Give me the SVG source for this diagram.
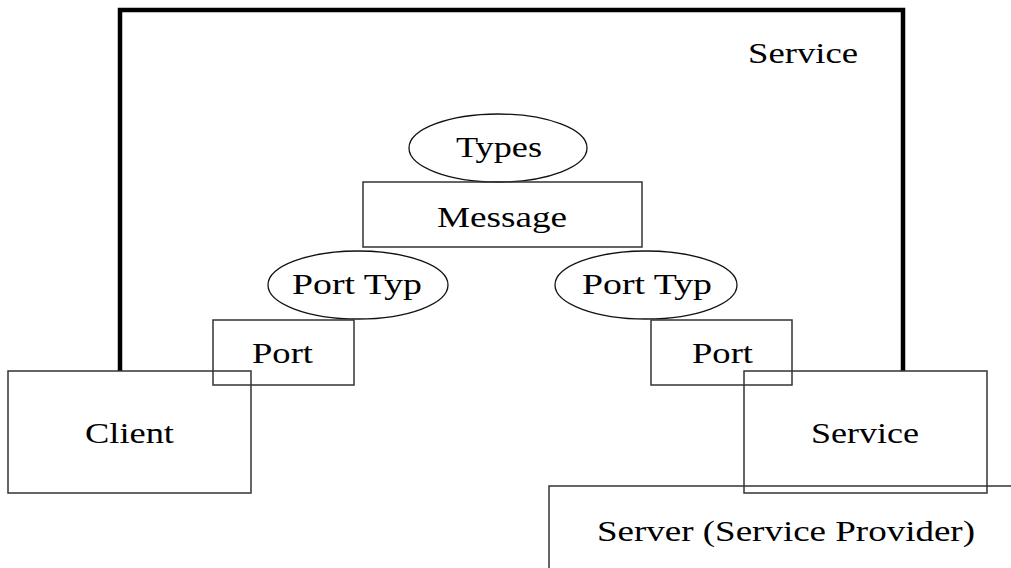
<svg xmlns="http://www.w3.org/2000/svg" width="1011" height="568" viewBox="0 0 1011 568">
  <style>
    .box { fill: none; stroke: #333; stroke-width: 1.5; }
    .oval { fill: none; stroke: #111; stroke-width: 1.3; }
    .frame { fill: none; stroke: #000; stroke-width: 4.5; stroke-linejoin: miter; }
    .lbl { font-family: "Liberation Serif", "Times New Roman", serif; font-size: 30px; fill: #000; }
  </style>
  <rect width="1011" height="568" fill="#fff"/>

  <!-- Service boundary (thick open frame) -->
  <g id="service-frame">
    <path class="frame" d="M120,371 V10 H903 V371"/>
    <text class="lbl" x="748" y="63" textLength="110" lengthAdjust="spacingAndGlyphs">Service</text>
  </g>

  <g id="types">
    <ellipse class="oval" cx="498" cy="148" rx="89" ry="34"/>
    <text class="lbl" x="456" y="157" textLength="86" lengthAdjust="spacingAndGlyphs">Types</text>
  </g>

  <g id="message">
    <rect class="box" x="363" y="182" width="279" height="65"/>
    <text class="lbl" x="437" y="227" textLength="130" lengthAdjust="spacingAndGlyphs">Message</text>
  </g>

  <g id="port-type-left">
    <ellipse class="oval" cx="358" cy="285" rx="90" ry="34"/>
    <text class="lbl" x="292" y="294" textLength="130" lengthAdjust="spacingAndGlyphs">Port Typ</text>
  </g>

  <g id="port-type-right">
    <ellipse class="oval" cx="646" cy="285" rx="91" ry="34"/>
    <text class="lbl" x="582" y="294" textLength="130" lengthAdjust="spacingAndGlyphs">Port Typ</text>
  </g>

  <g id="port-left">
    <rect class="box" x="213" y="320" width="141" height="65"/>
    <text class="lbl" x="252" y="363" textLength="61" lengthAdjust="spacingAndGlyphs">Port</text>
  </g>

  <g id="port-right">
    <rect class="box" x="651" y="320" width="141" height="65"/>
    <text class="lbl" x="692" y="363" textLength="61" lengthAdjust="spacingAndGlyphs">Port</text>
  </g>

  <g id="client">
    <rect class="box" x="8" y="371" width="243" height="122"/>
    <text class="lbl" x="85" y="443" textLength="89" lengthAdjust="spacingAndGlyphs">Client</text>
  </g>

  <g id="server">
    <path class="box" d="M549,568 V486 H1011"/>
    <text class="lbl" x="597" y="541" textLength="378" lengthAdjust="spacingAndGlyphs">Server (Service Provider)</text>
  </g>

  <g id="service">
    <rect class="box" x="744" y="371" width="243" height="122"/>
    <text class="lbl" x="811" y="443" textLength="108" lengthAdjust="spacingAndGlyphs">Service</text>
  </g>

  <g id="connectors"></g>
</svg>
